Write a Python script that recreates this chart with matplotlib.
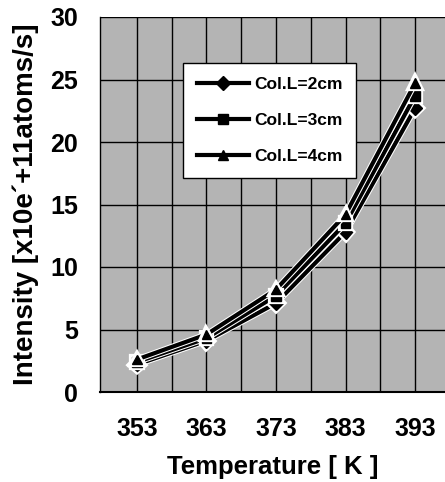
import matplotlib.pyplot as plt
import matplotlib.patheffects as pe

# 数据
temps = [353, 363, 373, 383, 393]
col_2cm = [2.2, 4.1, 7.1, 12.8, 22.7]
col_3cm = [2.4, 4.3, 7.7, 13.5, 23.7]
col_4cm = [2.6, 4.6, 8.2, 14.2, 24.7]
labels = ["Col.L=2cm", "Col.L=3cm", "Col.L=4cm"]
markers = ["D", "s", "^"]

plt.rcParams['font.family'] = ['Liberation Sans', 'DejaVu Sans']

fig = plt.figure(figsize=(4.45, 4.82), dpi=100)
ax = fig.add_axes([100 / 445, 1 - 392 / 482, 1 - 100 / 445, (392 - 17) / 482])
ax.set_facecolor('#b4b4b4')

for series, lab, mk in zip([col_2cm, col_3cm, col_4cm], labels, markers):
    ax.plot(temps, series, color='black', lw=3, marker=mk, markersize=7,
            label=lab, zorder=3,
            path_effects=[pe.Stroke(linewidth=4.5, foreground='white'), pe.Normal()])

ax.set_xlim(347.7, 397.3)
ax.set_ylim(0, 30)
ax.set_xticks(temps)
ax.set_xticks(range(353, 398, 5), minor=True)
ax.set_yticks(range(0, 31, 5))
ax.grid(True, which='both', color='black', lw=1)
ax.set_axisbelow(True)
ax.tick_params(axis='both', which='both', length=0, labelsize=18)
ax.tick_params(axis='y', pad=16)
ax.tick_params(axis='x', pad=18)
for t in ax.get_xticklabels() + ax.get_yticklabels():
    t.set_fontweight('bold')

for s in ['top', 'right']:
    ax.spines[s].set_visible(False)
ax.spines['left'].set_linewidth(1)
ax.spines['bottom'].set_linewidth(1.5)

ax.set_xlabel("Temperature [ K ]", fontsize=18.5, fontweight='bold', labelpad=10)
ax.set_ylabel("Intensity [x10e\u00b4+11atoms/s]", fontsize=20, fontweight='bold', labelpad=8)

leg = ax.legend(loc='upper left', bbox_to_anchor=(0.24, 0.877), borderaxespad=0,
                fancybox=False, framealpha=1, edgecolor='black',
                prop={'size': 12.5, 'weight': 'bold'}, handlelength=3.0,
                labelspacing=1.2, borderpad=0.8, handletextpad=0.3)
leg.get_frame().set_linewidth(1)
for h in leg.legend_handles:
    h.set_path_effects([])

fig.savefig("out.png", dpi=100)
